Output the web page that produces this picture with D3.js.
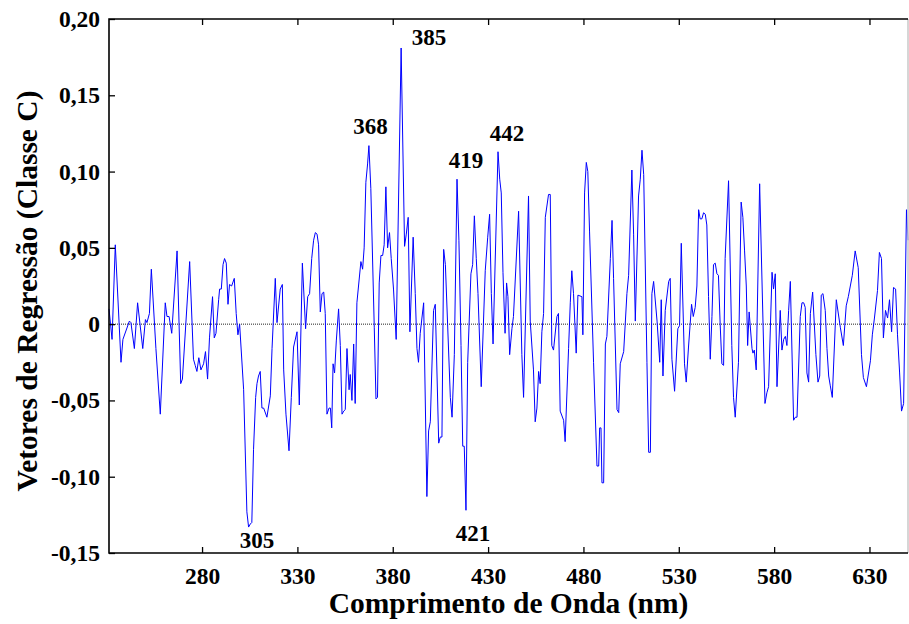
<!DOCTYPE html>
<html><head><meta charset="utf-8">
<script src="https://cdn.jsdelivr.net/npm/d3@7"></script>
<style>
html,body{margin:0;padding:0;background:#fff;}
text{font-family:"Liberation Serif","Times New Roman",serif;font-weight:bold;fill:#000;}
</style></head>
<body><svg id="chart" width="909" height="624"></svg>
<script>
// ---- data ----
const wavelengths = [
231.2,232.8,234.5,237.5,238.5,241.9,242.7,244.5,246.2,248.9,250.3,251.1,252.4,253.4,255.8,258.1,260.7,261.6,262.7,264.1,266.9,268.8,269.7,273.5,
275.5,276.4,277.3,278.3,279.4,280.8,281.8,282.9,283.9,285.5,286.4,287.3,288.7,289.2,290.1,291.0,291.8,292.7,293.6,294.4,295.5,296.9,297.9,298.8,299.7,301.8,303.5,304.4,305.3,306.1,307.0,308.1,308.8,309.6,310.5,311.4,312.3,314.0,
315.8,316.7,318.4,319.3,321.0,322.1,322.8,324.0,325.6,326.8,328.0,329.8,331.0,332.6,334.3,335.4,336.4,337.5,338.5,339.4,340.3,341.1,342.0,342.9,343.8,344.6,345.5,346.6,347.3,348.0,348.7,349.5,350.4,351.6,352.5,353.4,354.3,355.1,356.0,357.1,
357.7,358.6,359.5,360.3,361.2,363.3,364.2,365.0,365.9,366.8,367.5,368.5,370.3,371.2,372.0,372.9,373.8,374.7,375.5,376.4,377.3,378.3,379.2,380.4,381.8,384.4,386.2,387.1,388.1,389.0,390.7,391.8,392.7,393.5,394.4,396.2,397.9,398.8,399.7,
401.4,402.3,404.1,404.9,405.8,406.7,407.6,410.2,411.1,412.3,413.7,414.7,415.8,416.7,417.5,418.4,419.3,421.0,421.9,422.8,423.8,424.7,426.4,428.5,429.8,430.8,431.7,432.6,435.2,436.1,436.9,437.8,438.9,439.7,440.4,441.3,
442.5,443.3,446.0,447.7,448.6,451.2,452.1,453.8,454.7,455.6,456.5,457.3,458.2,459.1,460.0,461.7,462.6,463.4,464.3,466.1,466.9,467.8,469.6,470.4,472.2,473.1,473.9,474.8,476.2,477.1,479.2,479.7,480.6,481.5,482.3,483.2,
485.3,487.1,488.0,488.5,489.2,489.7,490.6,491.5,492.3,494.1,495.0,495.8,497.6,498.5,499.3,501.1,502.8,503.7,505.4,506.3,507.2,508.9,509.8,510.7,511.6,513.3,514.2,515.1,515.9,516.8,518.6,520.0,520.8,521.7,522.9,524.7,
525.5,526.4,527.8,529.5,530.4,531.3,533.0,533.9,535.1,536.7,537.6,538.6,539.5,540.4,541.2,542.1,543.0,543.9,544.7,545.6,546.5,547.4,548.2,549.1,550.0,550.8,551.7,552.6,553.5,554.3,556.1,557.8,558.7,559.6,561.3,562.7,563.6,564.5,565.4,566.1,566.9,
568.4,568.9,569.6,570.6,572.4,575.2,576.2,577.1,578.9,579.7,580.6,581.5,583.2,584.1,585.0,585.9,586.7,587.6,588.5,590.2,591.1,592.0,593.7,594.6,595.5,596.3,597.2,598.1,599.0,600.2,601.9,603.0,603.9,604.7,605.6,606.8,607.7,608.6,609.4,
610.5,612.6,614.7,616.3,617.8,618.9,621.0,622.5,624.1,625.8,626.8,628.4,630.5,631.5,632.6,634.2,635.2,636.3,637.3,638.4,639.5,640.5,641.6,642.6,643.7,644.7,645.8,646.8,647.9,649.4,650.2
];
const coefficients = [
0.010,-0.010,0.052,-0.025,-0.010,0.002,0.001,-0.016,0.014,-0.016,0.003,0.001,0.007,0.036,-0.016,-0.059,0.014,0.005,0.005,-0.006,0.048,-0.039,-0.036,0.041,
-0.023,-0.027,-0.031,-0.022,-0.030,-0.026,-0.018,-0.036,-0.009,0.018,-0.009,-0.006,0.016,0.023,0.023,0.039,0.043,0.040,0.013,0.026,0.025,0.030,0.007,-0.007,0.000,-0.043,-0.123,-0.133,-0.131,-0.130,-0.082,-0.048,-0.039,-0.034,-0.031,-0.055,-0.055,-0.061,
-0.047,-0.016,0.030,0.001,0.023,0.026,-0.030,-0.059,-0.083,-0.048,-0.015,-0.005,-0.053,0.040,-0.003,0.018,0.020,0.043,0.055,0.060,0.059,0.052,0.008,0.020,0.021,0.007,-0.059,-0.055,-0.055,-0.068,-0.026,-0.032,-0.011,0.010,-0.014,-0.059,-0.057,-0.056,-0.016,-0.043,
-0.033,-0.050,-0.013,-0.052,0.014,0.041,0.036,0.050,0.093,0.105,0.117,0.089,-0.002,-0.049,-0.048,0.027,0.045,0.045,0.052,0.090,0.050,0.060,0.043,0.023,-0.010,0.181,0.051,0.059,0.070,-0.005,0.057,0.020,-0.016,-0.025,-0.006,0.014,-0.113,-0.070,-0.064,
0.009,0.013,-0.078,-0.074,-0.074,0.049,0.039,-0.048,-0.061,-0.020,0.095,0.055,-0.014,-0.080,-0.080,-0.122,-0.025,0.033,0.039,0.071,0.043,0.020,-0.041,0.035,0.057,0.072,0.020,-0.013,0.113,0.095,0.086,0.034,-0.006,0.027,0.018,-0.020,
-0.003,0.005,0.074,-0.020,-0.048,0.084,0.002,-0.030,-0.064,-0.055,-0.031,-0.039,-0.005,0.007,0.070,0.085,0.085,-0.014,-0.017,0.005,0.007,-0.057,-0.063,-0.077,-0.016,0.014,0.035,0.020,-0.019,0.019,0.018,-0.007,0.086,0.106,0.100,0.061,
-0.025,-0.093,-0.093,-0.068,-0.068,-0.104,-0.104,-0.013,-0.008,0.043,0.068,0.030,-0.056,-0.058,-0.026,-0.018,0.020,0.032,0.101,0.059,0.002,0.084,0.095,0.114,0.098,-0.025,-0.084,-0.084,0.020,0.028,0.002,-0.025,0.016,-0.034,0.009,0.028,
0.030,-0.023,-0.044,-0.003,-0.001,0.053,-0.026,-0.038,-0.015,0.013,0.005,0.011,0.025,0.075,0.069,0.069,0.073,0.072,0.065,0.018,-0.023,0.005,0.039,0.040,0.033,0.032,0.000,-0.026,-0.027,0.043,0.094,-0.014,-0.048,-0.061,-0.025,0.080,0.070,0.048,0.025,-0.014,0.008,
-0.016,-0.019,-0.017,-0.030,0.092,-0.052,-0.045,-0.041,0.034,0.023,0.033,-0.041,0.009,-0.017,-0.010,-0.008,-0.014,0.009,0.028,-0.063,-0.061,-0.061,0.005,0.014,0.014,0.011,-0.032,-0.038,0.007,0.021,-0.020,-0.038,-0.034,0.019,0.020,0.009,-0.016,-0.034,-0.040,
-0.048,0.016,-0.002,-0.014,0.012,0.018,0.032,0.048,0.037,-0.020,-0.035,-0.041,-0.024,-0.007,0.004,0.022,0.047,0.043,-0.009,0.009,0.004,0.016,-0.005,0.024,0.023,-0.007,-0.032,-0.057,-0.052,0.075,0.055
];
const xTicks = [280, 330, 380, 430, 480, 530, 580, 630];
const yTicks = [-0.15, -0.10, -0.05, 0, 0.05, 0.10, 0.15, 0.20];
const yTickLabels = ["-0,15", "-0,10", "-0,05", "0", "0,05", "0,10", "0,15", "0,20"];
const peakLabels = ["385", "368", "419", "442", "305", "421"];
const peakLabelNm = [399.0, 368.3, 418.4, 439.9, 308.8, 422.1];
const peakLabelVal = [0.1885, 0.1299, 0.1076, 0.1253, -0.1415, -0.1369];
const xTitle = "Comprimento de Onda (nm)";
const yTitle = "Vetores de Regressão (Classe C)";

// ---- layout ----
const L = 109, R = 908, T = 19, B = 553;
const svg = d3.select("#chart");
const x = d3.scaleLinear().domain([231.2, 650.2]).range([L, R]);
const y = d3.scaleLinear().domain([-0.15, 0.20]).range([B, T]);

// zero line
svg.append("line").attr("x1", L).attr("x2", R).attr("y1", y(0)).attr("y2", y(0))
  .attr("stroke", "#222").attr("stroke-width", 1).attr("stroke-dasharray", "1,1");

// data line
const pts = wavelengths.map((w, i) => [w, coefficients[i]]);
svg.append("path").datum(pts)
  .attr("fill", "none").attr("stroke", "#0000ff").attr("stroke-width", 1)
  .attr("stroke-linejoin", "miter")
  .attr("d", d3.line().x(d => x(d[0])).y(d => y(d[1])));

// axes
const fmtY = v => yTickLabels[yTicks.indexOf(v)];
const gx = svg.append("g").attr("transform", `translate(0,${B})`)
  .call(d3.axisBottom(x).tickValues(xTicks).tickSize(-6).tickPadding(14).tickFormat(d3.format("d")));
const gxt = svg.append("g").attr("transform", `translate(0,${T})`)
  .call(d3.axisTop(x).tickValues(xTicks).tickSize(-6).tickFormat(""));
const gy = svg.append("g").attr("transform", `translate(${L},0)`)
  .call(d3.axisLeft(y).tickValues(yTicks).tickSize(-6).tickPadding(9).tickFormat(fmtY));
[gx, gxt, gy].forEach(g => {
  g.select(".domain").remove();
  g.selectAll(".tick line").attr("stroke", "#000").attr("stroke-width", 1.3);
  g.selectAll("text").attr("font-size", 23.5).attr("font-family", '"Liberation Serif","Times New Roman",serif').attr("font-weight", "bold");
});

// frame
svg.append("line").attr("x1", R).attr("x2", R).attr("y1", T).attr("y2", B).attr("stroke", "#c8c8c8").attr("stroke-width", 1.5);
svg.append("path").attr("d", `M${R},${T}H${L}V${B}H${R}`).attr("fill", "none").attr("stroke", "#000").attr("stroke-width", 1.6);

// peak labels
svg.selectAll("text.peak").data(peakLabels).enter().append("text").attr("class", "peak")
  .attr("x", (d, i) => x(peakLabelNm[i])).attr("y", (d, i) => y(peakLabelVal[i]))
  .attr("dy", "0.35em").attr("text-anchor", "middle").attr("font-size", 23).text(d => d);

// titles
svg.append("text").attr("x", (L + R) / 2).attr("y", 613).attr("text-anchor", "middle")
  .attr("font-size", 29.5).text(xTitle);
svg.append("text").attr("transform", `translate(37,291) rotate(-90)`).attr("text-anchor", "middle")
  .attr("font-size", 29.5).text(yTitle);
</script></body></html>
